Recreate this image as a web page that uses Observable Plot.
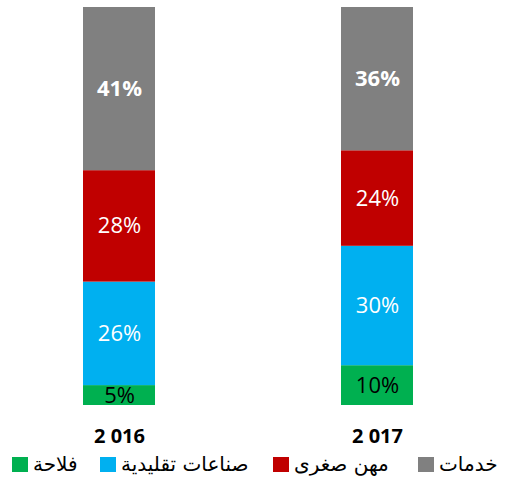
<!DOCTYPE html>
<html>
<head>
<meta charset="utf-8">
<script src="https://cdn.jsdelivr.net/npm/d3@7"></script>
<script src="https://cdn.jsdelivr.net/npm/@observablehq/plot@0.6"></script>
<style>
  html, body { margin: 0; padding: 0; background: #fff; }
  #chart { position: relative; width: 507px; }
  #legend { position: relative; width: 507px; height: 29px; font-family: "DejaVu Sans", sans-serif; font-size: 20px; color: #000; }
  .item { position: absolute; top: 2px; display: flex; align-items: center; white-space: nowrap; }
  .sw { width: 16px; height: 15px; margin-right: 5px; }
</style>
</head>
<body>
<div id="chart"></div>
<div id="legend"></div>
<script>
const years = ["2 016", "2 017"];
const sectors = ["فلاحة", "صناعات تقليدية", "مهن صغرى", "خدمات"];
const colors = ["#00B050", "#00B0F0", "#C00000", "#808080"];
const values2016 = [5, 26, 28, 41];
const values2017 = [10, 30, 24, 36];

const rows = [];
[values2016, values2017].forEach((vals, i) => {
  vals.forEach((v, j) => rows.push({year: years[i], sector: sectors[j], value: v}));
});

const labelOpts = {x: "year", y: "value", z: "sector", text: d => d.value + "%", order: null, fontSize: 22};

const plot = Plot.plot({
  width: 507,
  height: 450,
  marginLeft: 57,
  marginRight: 68,
  marginTop: 7,
  marginBottom: 45,
  style: {fontFamily: "Open Sans", background: "#fff"},
  x: {type: "band", domain: years, paddingInner: 0.721, paddingOuter: 0.1, label: null},
  y: {domain: [0, 100], axis: null},
  color: {domain: sectors, range: colors},
  marks: [
    Plot.barY(rows, Plot.stackY({x: "year", y: "value", fill: "sector", order: null, inset: 0})),
    Plot.text(rows, Plot.filter(d => d.sector === sectors[0], Plot.stackY({...labelOpts, fill: "#000", fontWeight: "normal"}))),
    Plot.text(rows, Plot.filter(d => d.sector === sectors[1] || d.sector === sectors[2], Plot.stackY({...labelOpts, fill: "#fff", fontWeight: "normal"}))),
    Plot.text(rows, Plot.filter(d => d.sector === sectors[3], Plot.stackY({...labelOpts, fill: "#fff", fontWeight: "bold"}))),
    Plot.axisX({tickSize: 0, tickPadding: 23, fontSize: 20, fontWeight: "bold", label: null, fill: "#000"})
  ]
});
document.getElementById("chart").appendChild(plot);

const legend = document.getElementById("legend");
const lefts = [12, 100, 273, 418];
sectors.forEach((s, i) => {
  const it = document.createElement("div");
  it.className = "item";
  it.style.left = lefts[i] + "px";
  const sw = document.createElement("span");
  sw.className = "sw";
  sw.style.background = colors[i];
  const tx = document.createElement("span");
  tx.textContent = s;
  tx.dir = "rtl";
  it.appendChild(sw);
  it.appendChild(tx);
  legend.appendChild(it);
});
</script>
</body>
</html>
